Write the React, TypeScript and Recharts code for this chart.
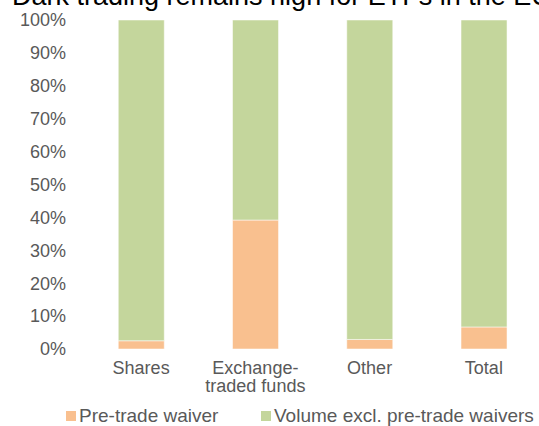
import React from 'react';
import { BarChart, Bar, XAxis, YAxis, Legend } from 'recharts';

// Chart data (percent of trading volume)
const categories = ['Shares', 'Exchange-traded funds', 'Other', 'Total'];
const preTradeWaiver = [2.5, 39.2, 2.9, 6.7];
const volumeExclWaivers = [97.5, 60.8, 97.1, 93.3];
const yTicks = [0, 10, 20, 30, 40, 50, 60, 70, 80, 90, 100];

const seriesNames = ['Pre-trade waiver', 'Volume excl. pre-trade waivers'];
const seriesColors = ['#F9C08F', '#C4D69C'];

const data = categories.map((category, i) => ({
  category,
  preTrade: preTradeWaiver[i],
  volume: volumeExclWaivers[i],
}));

const FONT = '"Liberation Sans", Arial, sans-serif';
const TEXT_GREY = '#595959';

// Category tick: break after the hyphen so "Exchange-traded funds" goes on two lines
const CategoryTick = ({ x, y, payload }: any) => {
  const lines = String(payload.value).replace('-', '-\n').split('\n');
  return (
    <text x={x} y={y} textAnchor="middle" fill={TEXT_GREY} fontSize={18} fontFamily={FONT}>
      {lines.map((line, i) => (
        <tspan key={i} x={x} dy={i === 0 ? '0.71em' : '1em'}>
          {line}
        </tspan>
      ))}
    </text>
  );
};

// legend item left edges (square), matching the source layout
const legendLeft = [66, 261];

const renderLegend = () => (
  <div
    style={{
      position: 'relative',
      height: 20,
      lineHeight: '20px',
      fontFamily: FONT,
      fontSize: 19,
      color: TEXT_GREY,
      whiteSpace: 'nowrap',
    }}
  >
    {seriesNames.map((name, i) => (
      <span
        key={name}
        style={{ position: 'absolute', left: legendLeft[i], top: 0, display: 'flex', alignItems: 'center', height: 20 }}
      >
        <span style={{ width: 10, height: 10, background: seriesColors[i], marginRight: 3 }} />
        {name}
      </span>
    ))}
  </div>
);

const App: React.FC = () => {
  return (
    <div style={{ position: 'absolute', left: 0, top: 0, width: 539, height: 426, overflow: 'hidden', background: '#fff' }}>
      <svg width={539} height={30} style={{ position: 'absolute', left: 0, top: 0, zIndex: 2 }}>
        <text x={12} y={5} fontSize={27} fontFamily={FONT} fill="#000">
          Dark trading remains high for ETFs in the EU
        </text>
      </svg>
      <BarChart
        width={539}
        height={426}
        data={data}
        margin={{ top: 20, right: -2, bottom: 0, left: 0 }}
        barCategoryGap="30%"
      >
        <XAxis
          dataKey="category"
          axisLine={false}
          tickLine={false}
          tickSize={6}
          tickMargin={6}
          height={57}
          interval={0}
          tick={<CategoryTick />}
        />
        <YAxis
          domain={[0, 100]}
          ticks={yTicks}
          tickFormatter={(v: number) => `${v}%`}
          axisLine={false}
          tickLine={false}
          tickMargin={12}
          width={84}
          tick={{ fill: TEXT_GREY, fontSize: 18, fontFamily: FONT }}
        />
        <Legend verticalAlign="bottom" content={renderLegend} />
        <Bar
          dataKey="preTrade"
          name={seriesNames[0]}
          stackId="a"
          fill={seriesColors[0]}
          stroke="#ffffff"
          strokeOpacity={0.5}
          strokeWidth={1}
          isAnimationActive={false}
        />
        <Bar
          dataKey="volume"
          name={seriesNames[1]}
          stackId="a"
          fill={seriesColors[1]}
          stroke="#ffffff"
          strokeOpacity={0.5}
          strokeWidth={1}
          isAnimationActive={false}
        />
      </BarChart>
    </div>
  );
};

export default App;
